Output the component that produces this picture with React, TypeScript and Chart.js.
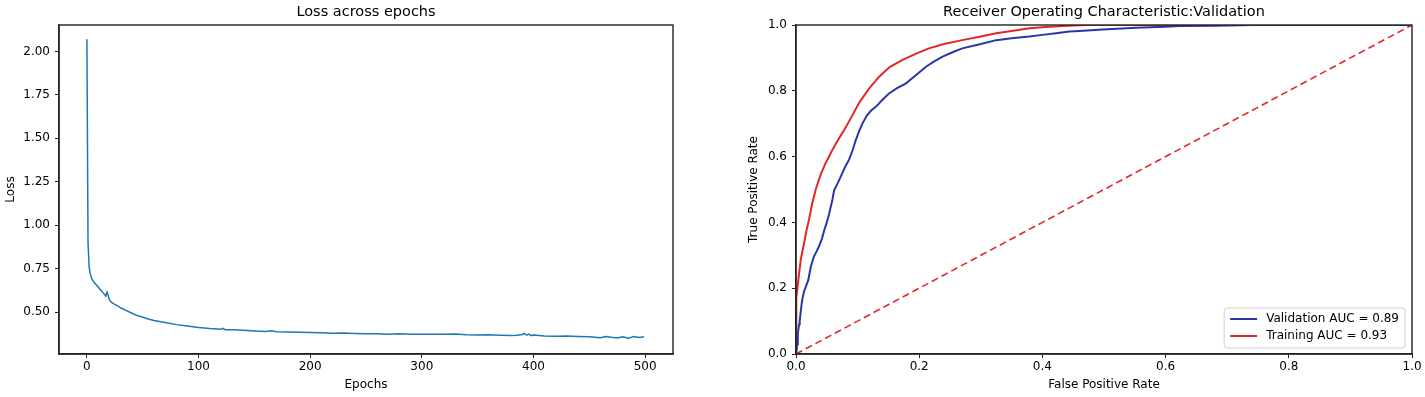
import React, { useEffect, useRef } from "react";
import { Chart, registerables } from "chart.js";

Chart.register(...registerables);

// ---------- Loss chart data ----------
const lossTitle = "Loss across epochs";
const epochs = [
  0, 1, 2, 3, 4, 5, 6, 8, 10, 12, 14, 16, 17, 18, 19, 20, 22, 25, 28, 30, 35, 40, 45, 50, 55, 60, 70, 80, 90,
  100, 110, 120, 122, 124, 130, 140, 150, 160, 165, 170, 180, 190, 200, 210, 220, 230, 240, 250, 260, 270,
  280, 290, 300, 310, 320, 330, 340, 350, 360, 370, 380, 385, 390, 392, 394, 396, 398, 400, 410, 420, 430,
  440, 450, 460, 465, 470, 475, 480, 485, 490, 495, 499,
];
const loss = [
  2.07, 0.9, 0.76, 0.72, 0.7, 0.685, 0.675, 0.66, 0.645, 0.63, 0.615, 0.6, 0.592, 0.615, 0.598, 0.572, 0.556,
  0.545, 0.535, 0.525, 0.51, 0.495, 0.48, 0.47, 0.46, 0.452, 0.44, 0.428, 0.42, 0.412, 0.406, 0.402, 0.407,
  0.398, 0.399, 0.395, 0.392, 0.389, 0.393, 0.387, 0.386, 0.384, 0.382, 0.381, 0.379, 0.38, 0.377, 0.375,
  0.376, 0.373, 0.375, 0.372, 0.373, 0.372, 0.373, 0.374, 0.37, 0.368, 0.37, 0.367, 0.365, 0.367, 0.371,
  0.377, 0.367, 0.374, 0.365, 0.368, 0.363, 0.361, 0.362, 0.36, 0.358, 0.352, 0.36, 0.355, 0.351, 0.358,
  0.35, 0.359, 0.354, 0.358,
];
const lossXTicks = [0, 100, 200, 300, 400, 500];
const lossYTicks = [0.5, 0.75, 1.0, 1.25, 1.5, 1.75, 2.0];

// ---------- ROC chart data ----------
const rocTitle = "Receiver Operating Characteristic:Validation";
const valLabel = "Validation AUC = 0.89";
const valFpr = [
  0, 0.002, 0.003, 0.005, 0.006, 0.008, 0.01, 0.013, 0.016, 0.02, 0.024, 0.029, 0.033, 0.037, 0.042, 0.046,
  0.05, 0.054, 0.059, 0.062, 0.068, 0.075, 0.08, 0.086, 0.092, 0.097, 0.103, 0.108, 0.115, 0.122, 0.13, 0.14,
  0.151, 0.164, 0.178, 0.195, 0.211, 0.225, 0.238, 0.255, 0.27, 0.3, 0.325, 0.35, 0.379, 0.4, 0.422, 0.444,
  0.46, 0.498, 0.552, 0.6, 0.623, 0.68, 0.741, 0.8, 0.9, 1.0,
];
const valTpr = [
  0, 0.03, 0.063, 0.09, 0.1, 0.134, 0.164, 0.19, 0.205, 0.225, 0.265, 0.296, 0.31, 0.326, 0.35, 0.377, 0.4,
  0.428, 0.468, 0.498, 0.52, 0.549, 0.57, 0.59, 0.62, 0.65, 0.68, 0.701, 0.725, 0.74, 0.752, 0.772, 0.792,
  0.808, 0.822, 0.848, 0.873, 0.89, 0.904, 0.918, 0.929, 0.942, 0.954, 0.96, 0.965, 0.97, 0.975, 0.98, 0.982,
  0.986, 0.992, 0.995, 0.997, 0.998, 1.0, 1.0, 1.0, 1.0,
];
const trainLabel = "Training AUC = 0.93";
const trainFpr = [
  0, 0, 0.001, 0.005, 0.008, 0.013, 0.017, 0.021, 0.026, 0.032, 0.04, 0.048, 0.059, 0.068, 0.078, 0.09, 0.102,
  0.118, 0.135, 0.152, 0.173, 0.195, 0.216, 0.24, 0.27, 0.3, 0.325, 0.35, 0.379, 0.405, 0.433, 0.471, 0.55,
  0.7, 0.85, 1.0,
];
const trainTpr = [
  0, 0.12, 0.17, 0.245, 0.29, 0.336, 0.375, 0.407, 0.455, 0.5, 0.545, 0.58, 0.62, 0.65, 0.68, 0.72, 0.762,
  0.805, 0.843, 0.872, 0.894, 0.913, 0.929, 0.942, 0.954, 0.965, 0.975, 0.982, 0.99, 0.994, 0.997, 1.0, 1.0,
  1.0, 1.0, 1.0,
];
const chanceX = [0, 1];
const chanceY = [0, 1];
const rocTicks = [0, 0.2, 0.4, 0.6, 0.8, 1.0];

// ---------- styling ----------
const FONT = "DejaVu Sans";
const AXIS = "#222";
const BLUE_LOSS = "#1f77b4";
const BLUE = "#2b36a6";
const RED = "#e3262c";

const framePlugin = {
  id: "frameTitle",
  afterDraw(chart: any, _args: any, opts: any) {
    const { ctx, chartArea: a } = chart;
    ctx.save();
    ctx.strokeStyle = AXIS;
    ctx.lineWidth = 1.4;
    ctx.strokeRect(a.left, a.top, a.right - a.left, a.bottom - a.top);
    ctx.fillStyle = "#000";
    ctx.font = `14.5px "${FONT}"`;
    ctx.textAlign = "center";
    ctx.textBaseline = "middle";
    if (opts && opts.title) ctx.fillText(opts.title, (a.left + a.right) / 2, 12);
    ctx.restore();
  },
};

const boxLegendPlugin = {
  id: "boxLegend",
  afterDatasetsDraw(chart: any, _args: any, opts: any) {
    if (!opts || !opts.show) return;
    const { ctx, chartArea: a } = chart;
    const items = chart.data.datasets.filter((d: any) => d.label);
    ctx.save();
    ctx.font = `12px "${FONT}"`;
    const tw = Math.max(...items.map((d: any) => ctx.measureText(d.label).width));
    const rowH = 17;
    const w = 42 + tw + 6;
    const h = items.length * rowH + 6;
    const x = a.right - 7 - w;
    const y = a.bottom - 6 - h;
    ctx.fillStyle = "rgba(255,255,255,0.9)";
    ctx.strokeStyle = "#d0d0d0";
    ctx.lineWidth = 1;
    ctx.beginPath();
    ctx.roundRect(x, y, w, h, 3);
    ctx.fill();
    ctx.stroke();
    items.forEach((d: any, i: number) => {
      const cy = y + 11 + i * rowH;
      ctx.strokeStyle = d.borderColor;
      ctx.lineWidth = 2;
      ctx.beginPath();
      ctx.moveTo(x + 6, cy);
      ctx.lineTo(x + 33, cy);
      ctx.stroke();
      ctx.fillStyle = "#000";
      ctx.textAlign = "left";
      ctx.textBaseline = "middle";
      ctx.fillText(d.label, x + 42, cy);
    });
    ctx.restore();
  },
};

function axis(opts: {
  min: number;
  max: number;
  ticks: number[];
  title: string;
  fmt: (v: number) => string;
  size: number;
  horizontal: boolean;
  pad: number;
}) {
  return {
    type: "linear",
    min: opts.min,
    max: opts.max,
    afterBuildTicks: (s: any) => {
      s.ticks = opts.ticks.map((v) => ({ value: v }));
    },
    afterFit: (s: any) => {
      if (opts.horizontal) s.height = opts.size;
      else s.width = opts.size;
    },
    ticks: {
      color: "#000",
      font: { family: FONT, size: 12 },
      padding: opts.pad,
      autoSkip: false,
      maxRotation: 0,
      callback: (v: any) => opts.fmt(Number(v)),
    },
    grid: {
      drawOnChartArea: false,
      drawTicks: true,
      tickLength: 4,
      color: AXIS,
      lineWidth: 1,
    },
    border: { display: true, color: AXIS, width: 1.4 },
    title: {
      display: true,
      text: opts.title,
      color: "#000",
      font: { family: FONT, size: 12 },
      padding: 4,
    },
  };
}

export default function App() {
  const leftRef = useRef<HTMLCanvasElement | null>(null);
  const rightRef = useRef<HTMLCanvasElement | null>(null);

  useEffect(() => {
    Chart.defaults.font.family = FONT;
    const lossChart = new Chart(leftRef.current as HTMLCanvasElement, {
      type: "line",
      data: {
        datasets: [
          {
            label: "",
            data: epochs.map((e, i) => ({ x: e, y: loss[i] })),
            borderColor: BLUE_LOSS,
            borderWidth: 1.5,
            pointRadius: 0,
            tension: 0,
            fill: false,
          },
        ],
      },
      options: {
        animation: false,
        responsive: false,
        layout: { padding: { left: 0, right: 47, top: 25, bottom: 1 } },
        plugins: {
          legend: { display: false },
          tooltip: { enabled: false },
          frameTitle: { title: lossTitle },
        } as any,
        scales: {
          x: axis({ min: -25, max: 525, ticks: lossXTicks, title: "Epochs", fmt: (v) => String(v), size: 42, horizontal: true, pad: 2 }),
          y: axis({ min: 0.259, max: 2.152, ticks: lossYTicks, title: "Loss", fmt: (v) => v.toFixed(2), size: 59, horizontal: false, pad: 5 }),
        } as any,
      },
      plugins: [framePlugin],
    } as any);

    const rocChart = new Chart(rightRef.current as HTMLCanvasElement, {
      type: "line",
      data: {
        datasets: [
          {
            label: valLabel,
            data: valFpr.map((x, i) => ({ x, y: valTpr[i] })),
            borderColor: BLUE,
            borderWidth: 2,
            pointRadius: 0,
            tension: 0,
            fill: false,
          },
          {
            label: trainLabel,
            data: trainFpr.map((x, i) => ({ x, y: trainTpr[i] })),
            borderColor: RED,
            borderWidth: 2,
            pointRadius: 0,
            tension: 0,
            fill: false,
          },
          {
            label: "",
            data: chanceX.map((x, i) => ({ x, y: chanceY[i] })),
            borderColor: RED,
            borderWidth: 1.6,
            borderDash: [7, 4],
            pointRadius: 0,
            tension: 0,
            fill: false,
          },
        ],
      },
      options: {
        animation: false,
        responsive: false,
        layout: { padding: { left: 31, right: 13, top: 25, bottom: 1 } },
        plugins: {
          legend: { display: false },
          tooltip: { enabled: false },
          frameTitle: { title: rocTitle },
          boxLegend: { show: true },
        } as any,
        scales: {
          x: axis({ min: 0, max: 1, ticks: rocTicks, title: "False Positive Rate", fmt: (v) => v.toFixed(1), size: 42, horizontal: true, pad: 2 }),
          y: axis({ min: 0, max: 1, ticks: rocTicks, title: "True Positive Rate", fmt: (v) => v.toFixed(1), size: 53, horizontal: false, pad: 5 }),
        } as any,
      },
      plugins: [framePlugin, boxLegendPlugin],
    } as any);

    return () => {
      lossChart.destroy();
      rocChart.destroy();
    };
  }, []);

  return (
    <div style={{ position: "fixed", left: 0, top: 0, width: 1425, height: 397, background: "#fff" }}>
      <canvas
        ref={leftRef}
        width={720}
        height={397}
        style={{ position: "absolute", left: 0, top: 0, width: 720, height: 397 }}
      />
      <canvas
        ref={rightRef}
        width={713}
        height={397}
        style={{ position: "absolute", left: 712, top: 0, width: 713, height: 397 }}
      />
    </div>
  );
}
